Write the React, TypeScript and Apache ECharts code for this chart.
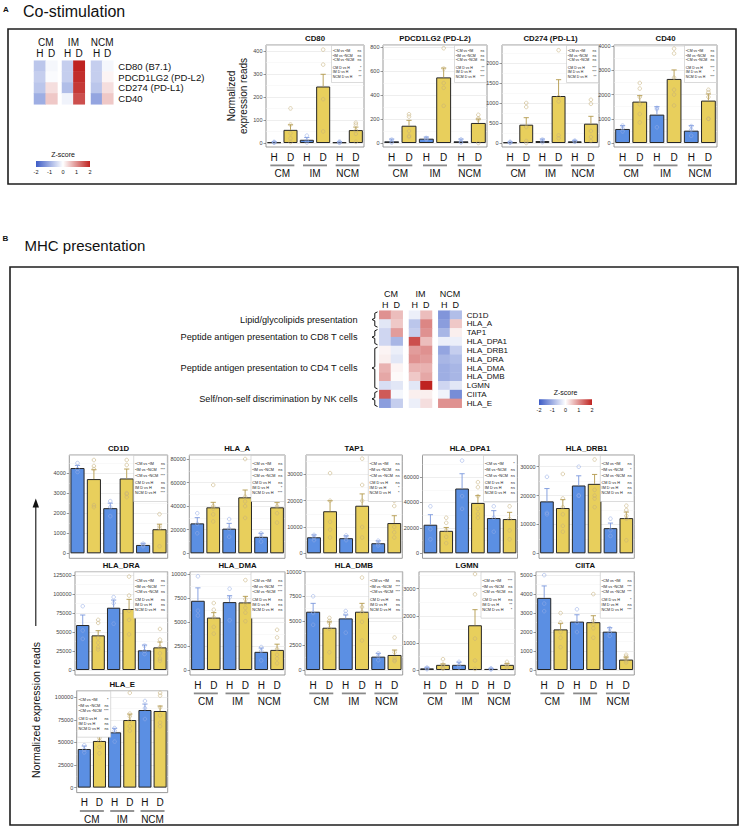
import { useEffect, useRef } from 'react';
import * as echarts from 'echarts';

const FONT = "'Liberation Sans', Arial, Helvetica, sans-serif";
const GROUPS = ['CM', 'IM', 'NCM'];
const CONDS = ['H', 'D', 'H', 'D', 'H', 'D'];
const SIG_LABELS = ['ᵃCM vs ᵇIM', 'ᵇIM vs ᶜNCM', 'ᵃCM vs ᶜNCM', 'CM D vs H', 'IM D vs H', 'NCM D vs H'];
const Z_TICKS = ['-2', '-1', '0', '1', '2'];
const HEAT_COLORS = ['#3d5cc6', '#ffffff', '#bf2320'];

// ---------- Panel A heatmap (z-scores, [H, D] per gene) ----------
const costimGenes = ['CD80 (B7.1)', 'PDCD1LG2 (PD-L2)', 'CD274 (PD-L1)', 'CD40'];
const costimZCM = [[-0.7, -0.1], [-0.6, -0.05], [-0.7, 0.3], [-1.0, 0.5]];
const costimZIM = [[-0.6, 2.0], [-0.6, 1.9], [-0.8, 1.8], [-0.15, 1.6]];
const costimZNCM = [[-0.6, -0.1], [-0.6, 0.1], [-0.7, 0.3], [-1.1, 0.5]];

// ---------- Panel B heatmap ----------
const mhcGenes = ['CD1D', 'HLA_A', 'TAP1', 'HLA_DPA1', 'HLA_DRB1', 'HLA_DRA', 'HLA_DMA', 'HLA_DMB', 'LGMN', 'CIITA', 'HLA_E'];
const mhcZCM = [[1.0, 0.6], [-0.3, 0.5], [-0.5, 0.9], [-0.5, -0.9], [0.1, -0.2], [0.15, -0.3], [0.7, 0.1], [0.8, 0.05], [-0.4, -0.3], [1.5, -0.1], [-1.2, -0.6]];
const mhcZIM = [[-0.2, 0.6], [-0.7, 1.1], [-0.6, 1.0], [1.6, 0.6], [0.9, 1.0], [1.0, 0.9], [0.7, 0.7], [0.5, 0.8], [-0.3, 2.0], [0.15, 0.15], [-0.2, 0.3]];
const mhcZNCM = [[-1.3, -0.8], [-1.2, 0.5], [-0.9, 0.15], [-0.2, -0.2], [-1.1, -0.6], [-0.9, -0.8], [-1.0, -0.9], [-1.0, -0.9], [-0.5, -0.3], [-0.15, -1.4], [1.0, 1.0]];
const mhcFunctionNames = ['Lipid/glycolipids presentation', 'Peptide antigen presentation to CD8 T cells', 'Peptide antigen presentation to CD4 T cells', 'Self/non-self discrimination by NK cells'];
const mhcFunctionRows = [[0, 1], [2, 3], [4, 8], [9, 10]];

// ---------- Bar chart data: means, top of SEM bars, individual points, stats ----------
const cd80Mean = [3, 57, 14, 245, 3, 56];
const cd80Err = [5, 79, 24, 298, 5, 69];
const cd80Pts = [[5, 3, 1], [150, 80, 42, 20, 4], [32, 10, 2], [405, 340, 190, 50], [6, 3, 1], [88, 80, 55, 40, 5]];
const cd80Sig = ['ns', 'ns', 'ns', '*', '**', '**'];

const pdl2Mean = [14, 144, 36, 547, 14, 167];
const pdl2Err = [33, 189, 50, 625, 33, 200];
const pdl2Pts = [[28, 12, 4], [240, 220, 100, 60, 50], [42, 36, 30], [790, 620, 500, 460, 310], [30, 10, 4], [235, 205, 195, 0]];
const pdl2Sig = ['ns', 'ns', 'ns', '**', '***', '***'];

const cd274Mean = [15, 458, 50, 1175, 42, 483];
const cd274Err = [25, 633, 100, 1583, 67, 667];
const cd274Pts = [[30, 10, 5], [1000, 900, 400, 50, 0], [85, 50, 20], [2320, 1150, 1040, 190, 120], [60, 40, 30], [1080, 980, 300, 150, 50]];
const cd274Sig = ['ns', 'ns', 'ns', '***', '***', '**'];

const cd40Mean = [580, 1710, 1172, 2648, 510, 1752];
const cd40Err = [717, 1959, 1503, 3020, 717, 2028];
const cd40Pts = [[720, 600, 480], [2480, 2250, 1900, 1600, 1200, 850], [1450, 1400, 650], [3900, 3700, 2700, 2200, 2000, 1550], [700, 550, 300], [2200, 2100, 1900, 1000, 1000]];
const cd40Sig = ['ns', 'ns', 'ns', '***', '*', '***'];

const cd1dMean = [4250, 3700, 2250, 3730, 417, 1200];
const cd1dErr = [4383, 4167, 2500, 4200, 500, 1450];
const cd1dPts = [[4500, 4200, 4050], [4650, 4350, 4200, 2400, 2300], [2600, 2300, 1850], [4650, 4400, 3000, 2950, 2800], [480, 400, 350], [1950, 1350, 1250, 350]];
const cd1dSig = ['ns', '***', '***', 'ns', 'ns', '***'];

const hlaAMean = [25400, 39000, 20900, 47500, 14000, 39000];
const hlaAErr = [30250, 43250, 25400, 53700, 17000, 43000];
const hlaAPts = [[34000, 25000, 17000], [58000, 40000, 38000, 33000, 27000], [29000, 21000, 14000], [80000, 48000, 44000, 40000, 30000], [17000, 14000, 10000], [50000, 46000, 40000, 34000, 26000]];
const hlaASig = ['ns', 'ns', 'ns', 'ns', '*', '***'];

const tap1Mean = [6100, 16000, 5750, 18100, 3830, 11500];
const tap1Err = [7000, 20000, 6640, 22600, 4720, 14300];
const tap1Pts = [[7000, 6000, 5000], [30500, 20000, 12000, 9000, 6000], [6800, 6000, 5000], [36000, 26000, 20000, 10000, 6000], [4800, 3800, 3000], [20000, 18000, 10000, 8000, 6000]];
const tap1Sig = ['ns', 'ns', 'ns', 'ns', '*', '*'];

const dpa1Mean = [22500, 17700, 51000, 39650, 27750, 26960];
const dpa1Err = [30400, 20350, 62650, 45450, 33570, 32250];
const dpa1Pts = [[37000, 19000, 11000], [28000, 24000, 18000, 13000, 8000], [73000, 45000, 35000], [56000, 52000, 45000, 35000, 31000, 28000], [37000, 28000, 17000], [48000, 37000, 27000, 18000, 11000]];
const dpa1Sig = ['*', 'ns', 'ns', 'ns', 'ns', 'ns'];

const drb1Mean = [18000, 15700, 23500, 24070, 8720, 12200];
const drb1Err = [22440, 18600, 26860, 27330, 10470, 14300];
const drb1Pts = [[26500, 14000, 13500], [27500, 19000, 16000, 13500, 9500, 7500], [30000, 20000, 20000], [32500, 22000, 20000, 19000, 16000], [12000, 8000, 6000], [16500, 15000, 13000, 12000, 4500]];
const drb1Sig = ['ns', '*', 'ns', 'ns', 'ns', 'ns'];

const draMean = [59200, 45600, 82000, 80260, 25900, 29800];
const draErr = [72400, 51750, 92100, 93000, 32900, 36800];
const draPts = [[84000, 52000, 41000], [66000, 62000, 42000, 36000, 30000, 27000], [96000, 88000, 61000], [123000, 98000, 78000, 66000, 47000], [32000, 25000, 21000], [54000, 40000, 30000, 22000, 15000, 12000]];
const draSig = ['ns', '***', 'ns', 'ns', 'ns', 'ns'];

const dmaMean = [7240, 5480, 7100, 7070, 1900, 2100];
const dmaErr = [8590, 6000, 7770, 7700, 2300, 2700];
const dmaPts = [[9800, 6200, 5700], [7000, 6300, 5500, 4500, 3800], [8500, 7600, 5200], [9400, 7400, 7000, 6500, 6000, 5100], [2400, 2000, 1000], [4200, 3400, 2200, 1600, 1200, 700]];
const dmaSig = ['ns', '***', '***', 'ns', 'ns', 'ns'];

const dmbMean = [5930, 4300, 5250, 5930, 1360, 1530];
const dmbErr = [6780, 4900, 5600, 6780, 1700, 2030];
const dmbPts = [[7500, 5800, 4600], [5300, 5000, 4800, 4200, 1800], [6000, 5700, 3800], [9400, 6400, 5900, 4900, 3000], [1700, 1400, 1000], [3300, 1800, 1200, 1000, 900]];
const dmbSig = ['ns', '***', '***', 'ns', 'ns', 'ns'];

const lgmnMean = [60, 190, 190, 1650, 40, 190];
const lgmnErr = [100, 225, 290, 2225, 60, 240];
const lgmnPts = [[90, 60, 30], [400, 200, 170, 80, 50], [300, 180, 90], [3540, 2790, 1160, 350, 40], [60, 40, 20], [300, 200, 150, 100]];
const lgmnSig = ['***', 'ns', 'ns', 'ns', '**', '*'];

const ciitaMean = [3800, 2140, 2550, 2520, 2020, 550];
const ciitaErr = [4430, 2460, 2910, 2860, 2230, 680];
const ciitaPts = [[5000, 3500, 3100], [3000, 2500, 2000, 1700, 1200], [3200, 2500, 2000], [4000, 2600, 2400, 2200, 1700], [2200, 2000, 1800], [800, 700, 600, 500, 400]];
const ciitaSig = ['ns', '***', '***', '*', 'ns', '***'];

const hlaEMean = [42800, 51700, 61250, 74900, 86000, 84900];
const hlaEErr = [46100, 56500, 65700, 81500, 92600, 90400];
const hlaEPts = [[47000, 42000, 39000], [64000, 55000, 52000, 45000, 38000], [66000, 63000, 51000], [105000, 82000, 79000, 74000, 68000, 63000], [96000, 88000, 76000], [105000, 102000, 89000, 80000, 72000, 68000]];
const hlaESig = ['*', 'ns', '***', 'ns', 'ns', 'ns'];

type Spec = { title: string; mean: number[]; err: number[]; pts: number[][]; sig: string[]; max: number; step: number };

const costimCharts: Spec[] = [
  { title: 'CD80', mean: cd80Mean, err: cd80Err, pts: cd80Pts, sig: cd80Sig, max: 425, step: 100 },
  { title: 'PDCD1LG2 (PD-L2)', mean: pdl2Mean, err: pdl2Err, pts: pdl2Pts, sig: pdl2Sig, max: 817, step: 200 },
  { title: 'CD274 (PD-L1)', mean: cd274Mean, err: cd274Err, pts: cd274Pts, sig: cd274Sig, max: 2450, step: 500 },
  { title: 'CD40', mean: cd40Mean, err: cd40Err, pts: cd40Pts, sig: cd40Sig, max: 4050, step: 1000 },
];
const mhcCharts: Spec[] = [
  { title: 'CD1D', mean: cd1dMean, err: cd1dErr, pts: cd1dPts, sig: cd1dSig, max: 4900, step: 1000 },
  { title: 'HLA_A', mean: hlaAMean, err: hlaAErr, pts: hlaAPts, sig: hlaASig, max: 83400, step: 20000 },
  { title: 'TAP1', mean: tap1Mean, err: tap1Err, pts: tap1Pts, sig: tap1Sig, max: 37400, step: 10000 },
  { title: 'HLA_DPA1', mean: dpa1Mean, err: dpa1Err, pts: dpa1Pts, sig: dpa1Sig, max: 77400, step: 20000 },
  { title: 'HLA_DRB1', mean: drb1Mean, err: drb1Err, pts: drb1Pts, sig: drb1Sig, max: 34070, step: 10000 },
  { title: 'HLA_DRA', mean: draMean, err: draErr, pts: draPts, sig: draSig, max: 129400, step: 25000 },
  { title: 'HLA_DMA', mean: dmaMean, err: dmaErr, pts: dmaPts, sig: dmaSig, max: 10280, step: 2500 },
  { title: 'HLA_DMB', mean: dmbMean, err: dmbErr, pts: dmbPts, sig: dmbSig, max: 10000, step: 2500 },
  { title: 'LGMN', mean: lgmnMean, err: lgmnErr, pts: lgmnPts, sig: lgmnSig, max: 3625, step: 1000 },
  { title: 'CIITA', mean: ciitaMean, err: ciitaErr, pts: ciitaPts, sig: ciitaSig, max: 5180, step: 1000 },
  { title: 'HLA_E', mean: hlaEMean, err: hlaEErr, pts: hlaEPts, sig: hlaESig, max: 107400, step: 25000 },
];

// ---------- Layout (pixel frames) ----------
const costimLayout = [
  { x0: 266, x1: 364, y0: 45, y1: 147, showX: true, boxLeft: false },
  { x0: 383, x1: 487, y0: 45, y1: 147, showX: true, boxLeft: false },
  { x0: 502, x1: 599, y0: 45, y1: 147, showX: true, boxLeft: false },
  { x0: 614, x1: 717, y0: 45, y1: 147, showX: true, boxLeft: false },
];
const mhcLayout = [
  { x0: 69.3, x1: 167.7, y0: 455, y1: 558.3, showX: false, boxLeft: false },
  { x0: 189.3, x1: 285, y0: 455, y1: 558.3, showX: false, boxLeft: false },
  { x0: 306, x1: 402.3, y0: 455, y1: 558.3, showX: false, boxLeft: false },
  { x0: 422.5, x1: 517.5, y0: 455, y1: 558.3, showX: false, boxLeft: false },
  { x0: 539, x1: 634.3, y0: 455, y1: 558.3, showX: false, boxLeft: false },
  { x0: 75, x1: 167.7, y0: 571.7, y1: 675, showX: false, boxLeft: false },
  { x0: 190, x1: 285, y0: 571.7, y1: 675, showX: true, boxLeft: false },
  { x0: 305, x1: 402.7, y0: 571.7, y1: 675, showX: true, boxLeft: false },
  { x0: 419, x1: 515, y0: 571.7, y1: 675, showX: true, boxLeft: false },
  { x0: 536, x1: 634.3, y0: 571.7, y1: 675, showX: true, boxLeft: false },
  { x0: 76.7, x1: 167.7, y0: 690.7, y1: 792.6, showX: true, boxLeft: true },
];

const BLUE = '#5b8fe3';
const YELLOW = '#e8cf5c';
const ERR_H = '#7b97dc';
const ERR_D = '#b39a4c';
const PT_H = '#95ace6';
const PT_D = '#c6b07a';

function buildOption() {
  const grid: any[] = [];
  const xAxis: any[] = [];
  const yAxis: any[] = [];
  const series: any[] = [];
  const graphic: any[] = [];
  const heatSeries: number[] = [];

  const txt = (x: number, y: number, text: string, o: any = {}) => {
    graphic.push({
      type: 'text', x, y, rotation: o.rotation || 0, z: o.z || 50, silent: true,
      style: {
        text, fontSize: o.fontSize || 10, fontFamily: FONT, fill: o.fill || '#111',
        fontWeight: o.fontWeight || 'normal', align: o.align || 'left', verticalAlign: o.verticalAlign || 'middle',
        lineHeight: o.lineHeight,
      },
    });
  };

  function addHeatmap(genes: string[], zs: number[][][], cols: number[][], top: number, rowH: number, o: any) {
    zs.forEach((z, g) => {
      const gi = grid.length;
      grid.push({ left: cols[g][0], top, width: cols[g][1] - cols[g][0], height: rowH * genes.length, outerBoundsMode: 'none' });
      const xi = xAxis.length;
      xAxis.push({
        gridIndex: gi, type: 'category', data: ['H', 'D'], position: 'top',
        axisLine: { show: false }, axisTick: { show: false }, splitLine: { show: false },
        axisLabel: { fontSize: o.colFont, margin: o.colMargin, color: '#111', fontFamily: FONT, interval: 0 },
        name: GROUPS[g], nameLocation: 'middle', nameGap: o.groupGap,
        nameTextStyle: { fontSize: o.groupFont, color: '#111', fontFamily: FONT },
      });
      const yi = yAxis.length;
      yAxis.push({
        gridIndex: gi, type: 'category', data: genes, inverse: true, position: 'right',
        axisLine: { show: false }, axisTick: { show: false }, splitLine: { show: false },
        axisLabel: { show: g === 2, fontSize: o.labelFont, margin: 5, color: '#111', fontFamily: FONT, interval: 0 },
      });
      heatSeries.push(series.length);
      series.push({
        type: 'heatmap', xAxisIndex: xi, yAxisIndex: yi, silent: true,
        data: z.flatMap((row, r) => row.map((v, c) => [c, r, v])),
      });
    });
  }

  function addColorbar(x: number, y: number, w: number, h: number, fs: number) {
    graphic.push({
      type: 'rect', x, y, shape: { x: 0, y: 0, width: w, height: h }, silent: true,
      style: {
        fill: { type: 'linear', x: 0, y: 0, x2: 1, y2: 0, colorStops: [
          { offset: 0, color: HEAT_COLORS[0] }, { offset: 0.5, color: HEAT_COLORS[1] }, { offset: 1, color: HEAT_COLORS[2] }] },
      },
    });
    txt(x + w / 2, y - 7, 'Z-score', { fontSize: fs + 1.5, align: 'center' });
    Z_TICKS.forEach((t, i) => txt(x + (w * i) / 4, y + h + 5, t, { fontSize: fs, align: 'center' }));
  }

  function addBar(spec: Spec, lay: any, o: any) {
    const W = lay.x1 - lay.x0;
    const fi = grid.length;
    grid.push({ left: lay.x0, top: lay.y0, width: W, height: lay.y1 - lay.y0, show: true, borderColor: '#8e8e8e', borderWidth: 0.9, backgroundColor: '#fff', outerBoundsMode: 'none' });
    xAxis.push({ gridIndex: fi, type: 'value', show: false });
    yAxis.push({ gridIndex: fi, type: 'value', show: false });
    const pi = grid.length;
    grid.push({ left: lay.x0, top: lay.y0, width: W, height: lay.y1 - lay.y0 - o.zoff, outerBoundsMode: 'none' });
    const xi = xAxis.length;
    xAxis.push({
      gridIndex: pi, type: 'category', data: CONDS, position: 'bottom',
      axisLine: { show: false }, axisTick: { show: false }, splitLine: { show: false },
      axisLabel: { show: lay.showX, margin: o.zoff + 5, fontSize: 10, color: '#111', fontFamily: FONT, interval: 0 },
    });
    xAxis.push({
      gridIndex: pi, type: 'category', data: GROUPS, position: 'bottom',
      axisLine: { show: false }, axisTick: { show: false }, splitLine: { show: false },
      axisLabel: {
        show: lay.showX, margin: o.zoff + 17.5, interval: 0,
        formatter: (v: string) => `{u| }\n{g|${v}}`,
        rich: {
          u: { width: 24, height: 1.8, lineHeight: 1.8, backgroundColor: '#8a8a8a', fontSize: 1 },
          g: { fontSize: 10, lineHeight: 15, color: '#111', fontFamily: FONT },
        },
      },
    });
    const yi = yAxis.length;
    yAxis.push({
      gridIndex: pi, type: 'value', min: 0, max: spec.max, interval: spec.step,
      axisLine: { show: false },
      axisTick: { show: true, length: 2.5, lineStyle: { color: '#555', width: 0.6 } },
      axisLabel: { fontSize: 5.5, color: '#444', margin: 3.5, fontFamily: FONT, showMaxLabel: spec.max % spec.step === 0, formatter: (v: number) => String(v) },
      splitLine: { show: true, lineStyle: { color: '#e2e2e2', width: 0.6 } },
      minorTick: { show: false, splitNumber: 2 },
      minorSplitLine: { show: true, lineStyle: { color: '#f2f2f2', width: 0.5 } },
    });
    series.push({
      type: 'bar', xAxisIndex: xi, yAxisIndex: yi, barWidth: '86%', silent: true, z: 2,
      itemStyle: { borderColor: '#262626', borderWidth: 1 },
      data: spec.mean.map((v, i) => ({ value: v, itemStyle: { color: i % 2 === 0 ? BLUE : YELLOW } })),
    });
    series.push({
      type: 'custom', xAxisIndex: xi, yAxisIndex: yi, silent: true, z: 3,
      encode: { x: 0, y: [1, 2] },
      data: spec.mean.map((v, i) => [i, v, spec.err[i]]),
      renderItem: (_p: any, api: any) => {
        const i = api.value(0);
        const base = api.coord([i, api.value(1)]);
        const top = api.coord([i, api.value(2)]);
        const col = i % 2 === 0 ? ERR_H : ERR_D;
        return {
          type: 'group', children: [
            { type: 'line', shape: { x1: base[0], y1: base[1], x2: top[0], y2: top[1] }, style: { stroke: col, lineWidth: 0.9 } },
            { type: 'line', shape: { x1: top[0] - 2.6, y1: top[1], x2: top[0] + 2.6, y2: top[1] }, style: { stroke: col, lineWidth: 0.9 } },
          ],
        };
      },
    });
    const hPts: number[][] = [];
    const dPts: number[][] = [];
    spec.pts.forEach((arr, i) => arr.forEach((v) => (i % 2 === 0 ? hPts : dPts).push([i, v])));
    [[hPts, PT_H], [dPts, PT_D]].forEach(([d, c]: any) => {
      series.push({
        type: 'scatter', xAxisIndex: xi, yAxisIndex: yi, silent: true, z: 4, clip: false,
        symbol: 'circle', symbolSize: 3.6, data: d,
        itemStyle: { color: 'rgba(0,0,0,0)', borderColor: c, borderWidth: 0.7 },
      });
    });
    // title
    txt((lay.x0 + lay.x1) / 2, lay.y0 - 6.5, spec.title, { fontSize: 7.8, fontWeight: 'bold', align: 'center' });
    // stats box
    const bx = lay.boxLeft ? lay.x0 + 0.5 : lay.x1 - o.boxW - 0.5;
    const by = lay.y0 + 0.5;
    graphic.push({ type: 'rect', x: bx, y: by, z: 60, silent: true, shape: { x: 0, y: 0, width: o.boxW, height: o.boxH }, style: { fill: '#fff', stroke: '#b8b8b8', lineWidth: 0.5 } });
    SIG_LABELS.forEach((lab, i) => {
      txt(bx + 1.3, by + o.lines[i], lab, { fontSize: o.fs, z: 61, fill: '#222' });
      txt(bx + o.boxW - 2.2, by + o.lines[i], spec.sig[i], { fontSize: o.fs, z: 61, fill: '#222', align: 'right' });
    });
  }

  // ===== Panel A =====
  txt(3, 9, 'A', { fontSize: 8, fontWeight: 'bold' });
  txt(23, 11, 'Co-stimulation', { fontSize: 16 });
  graphic.push({ type: 'rect', x: 8, y: 29, z: 1, silent: true, shape: { x: 0, y: 0, width: 728, height: 155 }, style: { fill: 'none', stroke: '#1e1e1e', lineWidth: 1.6 } });
  addHeatmap(costimGenes, [costimZCM, costimZIM, costimZNCM], [[34, 57.4], [62, 84.8], [91, 113.3]], 60.7, 10.9,
    { colFont: 10, colMargin: 2, groupFont: 10, groupGap: 12, labelFont: 9.5 });
  addColorbar(36, 161, 54, 6, 5.5);
  txt(237.5, 96, 'Normalized\nexpression reads', { fontSize: 10, align: 'center', rotation: Math.PI / 2, lineHeight: 11.5 });
  costimCharts.forEach((s, i) => addBar(s, costimLayout[i], { zoff: 4, boxW: 32, boxH: 37, fs: 3.5, lines: [5.7, 10.2, 14.8, 22.3, 26.8, 31.8] }));

  // ===== Panel B =====
  txt(2.5, 238, 'B', { fontSize: 8, fontWeight: 'bold' });
  txt(24.5, 245.5, 'MHC presentation', { fontSize: 15 });
  graphic.push({ type: 'rect', x: 10, y: 267, z: 1, silent: true, shape: { x: 0, y: 0, width: 728, height: 558 }, style: { fill: 'none', stroke: '#1e1e1e', lineWidth: 1.6 } });
  const mhcTop = 310.7;
  const mhcRowH = 8.82;
  addHeatmap(mhcGenes, [mhcZCM, mhcZIM, mhcZNCM], [[379.3, 402.7], [409, 432], [438.3, 461.7]], mhcTop, mhcRowH,
    { colFont: 9, colMargin: 1, groupFont: 9, groupGap: 12, labelFont: 8 });
  mhcFunctionRows.forEach(([r0, r1], k) => {
    const yT = mhcTop + r0 * mhcRowH + 1.2;
    const yB = mhcTop + (r1 + 1) * mhcRowH - 1.2;
    const yM = (yT + yB) / 2;
    graphic.push({
      type: 'polyline', silent: true, z: 5,
      shape: { points: [[377.5, yT], [374.8, yT + 1.3], [374.8, yM - 1.3], [372, yM], [374.8, yM + 1.3], [374.8, yB - 1.3], [377.5, yB]] },
      style: { stroke: '#111', lineWidth: 1, fill: 'none' },
    });
    txt(357.5, yM, mhcFunctionNames[k], { fontSize: 9.2, align: 'right' });
  });
  addColorbar(539, 399.3, 53, 5.8, 5.5);
  // y axis title with arrow
  graphic.push({ type: 'line', silent: true, shape: { x1: 35.8, y1: 626, x2: 35.8, y2: 505 }, style: { stroke: '#111', lineWidth: 1.1 } });
  graphic.push({ type: 'polygon', silent: true, shape: { points: [[32.6, 507.5], [39, 507.5], [35.8, 498.5]] }, style: { fill: '#111' } });
  txt(35.5, 710, 'Normalized expression reads', { fontSize: 10.5, align: 'center', rotation: Math.PI / 2 });
  mhcCharts.forEach((s, i) => addBar(s, mhcLayout[i], { zoff: 5, boxW: 33.5, boxH: 46, fs: 3.8, lines: [8.5, 14.5, 20, 27.5, 32.5, 37.5] }));

  return {
    animation: false,
    backgroundColor: '#fff',
    textStyle: { fontFamily: FONT },
    grid, xAxis, yAxis, series, graphic,
    visualMap: [{ type: 'continuous', show: false, min: -2, max: 2, dimension: 2, seriesIndex: heatSeries, inRange: { color: HEAT_COLORS } }],
  };
}

export default function App() {
  const ref = useRef<HTMLDivElement>(null);
  useEffect(() => {
    const chart = echarts.init(ref.current as HTMLDivElement, null, { renderer: 'svg' });
    chart.setOption(buildOption() as any);
    return () => chart.dispose();
  }, []);
  return <div ref={ref} style={{ position: 'absolute', left: 0, top: 0, width: 741, height: 827, background: '#fff' }} />;
}
